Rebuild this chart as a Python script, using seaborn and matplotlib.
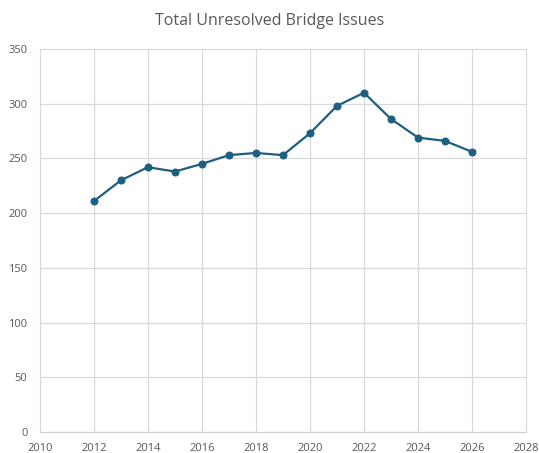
import matplotlib
matplotlib.use("Agg")
import matplotlib.pyplot as plt
import seaborn as sns
import pandas as pd

# data
years = [2012, 2013, 2014, 2015, 2016, 2017, 2018, 2019, 2020,
         2021, 2022, 2023, 2024, 2025, 2026]
issues = [211, 230, 242, 238, 245, 253, 255, 253, 273,
          298, 310, 286, 269, 266, 256]
x_ticks = [2010, 2012, 2014, 2016, 2018, 2020, 2022, 2024, 2026, 2028]
y_ticks = [0, 50, 100, 150, 200, 250, 300, 350]

df = pd.DataFrame({"year": years, "issues": issues})

sns.set_style("white")
plt.rcParams['font.family'] = ['Open Sans', 'DejaVu Sans']

fig = plt.figure(figsize=(5.39, 4.53), dpi=100)
ax = fig.add_axes([0.074, 0.046, 0.902, 0.846])

line_color = "#1c5f80"
sns.lineplot(data=df, x="year", y="issues", ax=ax, color=line_color,
             linewidth=1.6, marker="o", markersize=5,
             markeredgecolor=line_color, zorder=3, clip_on=False)

ax.set_xlim(2010, 2028)
ax.set_ylim(0, 350)
ax.set_xticks(x_ticks)
ax.set_yticks(y_ticks)
ax.grid(True, color="#d9d9d9", linewidth=0.9, clip_on=False)
ax.set_axisbelow(True)
for side in ["top", "right", "left"]:
    ax.spines[side].set_visible(False)
ax.spines["bottom"].set_color("#d0d0d0")
ax.tick_params(axis="both", length=0, labelsize=8, colors="#595959")
ax.tick_params(axis="y", pad=9)
ax.tick_params(axis="x", pad=8)
ax.set_xlabel("")
ax.set_ylabel("")

fig.suptitle("Total Unresolved Bridge Issues", x=0.5, y=0.972,
             fontsize=11.5, color="#595959")

fig.savefig("out.png", dpi=100)
